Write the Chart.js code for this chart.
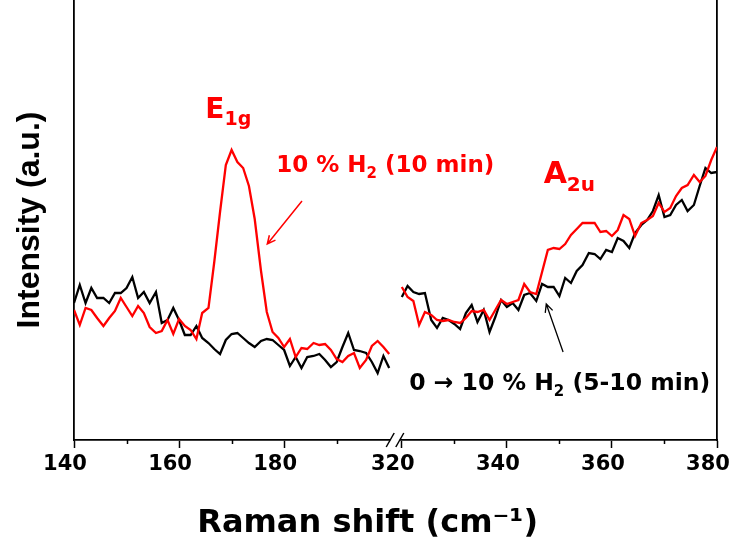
<!DOCTYPE html>
<html>
<head>
<meta charset="utf-8">
<script src="https://cdn.jsdelivr.net/npm/chart.js@4.4.1/dist/chart.umd.min.js"></script>
<style>
  html, body { margin: 0; padding: 0; background: #fff; }
</style>
</head>
<body>
<canvas id="raman" width="734" height="546"></canvas>
<script>
// ——— Raman shift grids (cm-1) for the two windows ———
const shiftLow = [140.0,141.1,142.2,143.3,144.4,145.6,146.7,147.8,148.9,150.0,151.1,152.2,153.3,154.4,155.6,156.7,157.8,158.9,160.0,161.1,162.2,163.3,164.4,165.6,166.7,167.8,168.9,170.0,171.1,172.2,173.3,174.4,175.6,176.7,177.8,178.9,180.0,181.1,182.2,183.3,184.4,185.6,186.7,187.8,188.9,190.0,191.1,192.2,193.3,194.4,195.6,196.7,197.8,198.9,200.0]
const shiftHigh = [320.0,321.1,322.2,323.3,324.4,325.6,326.7,327.8,328.9,330.0,331.1,332.2,333.3,334.4,335.6,336.7,337.8,338.9,340.0,341.1,342.2,343.3,344.4,345.6,346.7,347.8,348.9,350.0,351.1,352.2,353.3,354.4,355.6,356.7,357.8,358.9,360.0,361.1,362.2,363.3,364.4,365.6,366.7,367.8,368.9,370.0,371.1,372.2,373.3,374.4,375.6,376.7,377.8,378.9,380.0]

// intensities (a.u.)
// black: 0 -> 10 % H2 (5-10 min), red: 10 % H2 (10 min)
const blackLow = [137,155,137,152,142,142,137,147,147,152,163,142,148,137,148,117,120,132,120,105,105,114,102,97,91,86,100,106,107,102,97,93,99,101,100,95,90,74,83,72,83,84,86,80,73,78,93,107,90,89,87,78,67,84,72]
const redLow = [130,115,132,130,122,114,122,129,142,133,124,134,127,113,107,109,120,106,121,114,110,101,127,132,178,228,275,290,278,272,254,221,169,128,108,102,93,101,83,92,91,97,95,96,90,81,78,84,87,72,80,94,99,93,86]
const blackHigh = [143,154,148,146,147,120,112,122,120,116,111,127,135,118,130,108,123,140,133,137,130,145,147,139,156,153,153,144,162,157,169,175,187,186,181,190,188,202,199,192,207,215,220,229,245,223,225,235,240,229,235,254,272,267,268]
const redHigh = [153,143,139,115,128,125,120,119,120,118,117,122,129,128,130,120,130,140,136,138,140,156,148,146,168,190,192,191,196,205,211,217,217,217,208,209,204,210,225,221,204,217,220,224,237,228,232,244,252,255,265,258,264,280,293]

// axis ticks
const tickShifts = [140,150,160,170,180,190,320,330,340,350,360,370,380]
const labelShifts = [140,160,180,320,340,360,380]

const RED = '#ff0000'
const INK = '#000000'

// broken axis: 200..320 is cut out and replaced by a small gap
const BREAK_FROM = 200, BREAK_TO = 320, BREAK_GAP = 2.4
const axisPos = v => v <= BREAK_FROM ? v : v - (BREAK_TO - BREAK_FROM) + BREAK_GAP
const shiftOf = p => p <= BREAK_FROM + BREAK_GAP / 2 ? p : p + (BREAK_TO - BREAK_FROM) - BREAK_GAP

const pts = (xs, ys) => xs.map((x, i) => ({ x: axisPos(x), y: ys[i] }))

const lineSet = (data, color) => ({
  data, borderColor: color, borderWidth: 2.3, pointRadius: 0, tension: 0, fill: false
})

const SANS = "'DejaVu Sans', sans-serif"
const ARIAL = "'Liberation Sans', Arial, sans-serif"

// text with subscripts, drawn run by run
function drawRuns(ctx, x, y, runs, size, subSize, drop) {
  let cx = x
  runs.forEach(([txt, sub]) => {
    ctx.font = `bold ${sub ? subSize : size}px ${SANS}`
    ctx.fillText(txt, cx, sub ? y + drop : y)
    cx += ctx.measureText(txt).width
  })
}

function drawArrow(ctx, x1, y1, x2, y2, color, w) {
  const a = Math.atan2(y2 - y1, x2 - x1), h = 9
  ctx.strokeStyle = color
  ctx.lineWidth = w
  ctx.beginPath()
  ctx.moveTo(x1, y1); ctx.lineTo(x2, y2)
  ctx.moveTo(x2 - h * Math.cos(a - 0.45), y2 - h * Math.sin(a - 0.45))
  ctx.lineTo(x2, y2)
  ctx.lineTo(x2 - h * Math.cos(a + 0.45), y2 - h * Math.sin(a + 0.45))
  ctx.stroke()
}

// labels for the peaks and the two spectra (anchored in data units)
const notes = [
  { shift: 165, level: 322, color: RED, size: 28, sub: 19, drop: 7, runs: [['E'], ['1g', true]] },
  { shift: 347, level: 257, color: RED, size: 30, sub: 20, drop: 8, runs: [['A'], ['2u', true]] },
  { shift: 178.5, level: 268, color: RED, size: 23, sub: 15, drop: 6, runs: [['10 % H'], ['2', true], [' (10 min)']] },
  { shift: 321.4, level: 50, color: INK, size: 23.5, sub: 15, drop: 6, runs: [['0 \u2192 10 % H'], ['2', true], [' (5-10 min)']] }
]
const arrows = [
  { from: [183.4, 239], to: [176.8, 196], color: RED, width: 1.5 },
  { from: [350.7, 88], to: [347.5, 136], color: INK, width: 1.3 }
]

const decorations = {
  id: 'decorations',
  afterDraw(chart) {
    const { ctx, scales: { x, y } } = chart
    const px = s => x.getPixelForValue(axisPos(s))
    const py = v => y.getPixelForValue(v)
    ctx.save()

    // minor ticks
    ctx.strokeStyle = INK
    ctx.lineWidth = 1.5
    tickShifts.filter(s => !labelShifts.includes(s)).forEach(s => {
      const xx = Math.round(px(s)) + 0.5
      ctx.beginPath(); ctx.moveTo(xx, y.bottom); ctx.lineTo(xx, y.bottom + 4); ctx.stroke()
    })

    // axis break marks
    const b1 = px(BREAK_FROM) + 1, b2 = px(BREAK_TO) - 2
    ctx.fillStyle = '#fff'
    ctx.fillRect(b1, y.bottom - 3, b2 - b1, 6)
    ctx.lineWidth = 1.5
    ;[b1, b2].forEach(bx => {
      ctx.beginPath(); ctx.moveTo(bx - 4, y.bottom + 7); ctx.lineTo(bx + 4, y.bottom - 7); ctx.stroke()
    })

    // arrows
    arrows.forEach(a => drawArrow(ctx, px(a.from[0]), py(a.from[1]), px(a.to[0]), py(a.to[1]), a.color, a.width))

    // text labels
    ctx.textBaseline = 'alphabetic'
    ctx.textAlign = 'left'
    notes.forEach(n => {
      ctx.fillStyle = n.color
      drawRuns(ctx, px(n.shift), py(n.level), n.runs, n.size, n.sub, n.drop)
    })
    ctx.restore()
  }
}

new Chart(document.getElementById('raman'), {
  type: 'line',
  data: {
    datasets: [
      lineSet(pts(shiftLow, redLow), RED),
      lineSet(pts(shiftHigh, redHigh), RED),
      lineSet(pts(shiftLow, blackLow), INK),
      lineSet(pts(shiftHigh, blackHigh), INK)
    ]
  },
  options: {
    responsive: false,
    animation: false,
    devicePixelRatio: 1,
    layout: { padding: 0 },
    plugins: { legend: { display: false }, tooltip: { enabled: false } },
    scales: {
      x: {
        type: 'linear',
        position: 'bottom',
        min: 140,
        max: axisPos(380),
        afterBuildTicks: s => { s.ticks = tickShifts.map(v => ({ value: axisPos(v) })) },
        afterFit: s => { s.height = 106; s.paddingLeft = 0; s.paddingRight = 0 },
        ticks: {
          autoSkip: false,
          maxRotation: 0,
          padding: 4,
          labelOffset: -9,
          color: INK,
          font: { family: SANS, size: 21, weight: 'bold' },
          callback: v => {
            const s = Math.round(shiftOf(v))
            return labelShifts.includes(s) ? String(s) : ''
          }
        },
        grid: {
          drawOnChartArea: false,
          tickLength: 8,
          tickWidth: 1.5,
          tickColor: c => labelShifts.includes(Math.round(shiftOf(c.tick.value))) ? INK : 'rgba(0,0,0,0)'
        },
        border: { color: INK, width: 1.8 },
        title: {
          display: true,
          // trailing spaces pull the centred title a little to the left
          text: 'Raman shift (cm\u207B\u00B9)     ',
          color: INK,
          font: { family: SANS, size: 32, weight: 'bold', lineHeight: 1 },
          padding: { top: 0, bottom: 6 }
        }
      },
      y: {
        type: 'linear',
        position: 'left',
        min: 0,
        max: 440,
        afterFit: s => { s.width = 74 },
        ticks: { display: false },
        grid: { display: false },
        border: { color: INK, width: 1.8 },
        title: {
          display: true,
          text: 'Intensity (a.u.)',
          color: INK,
          font: { family: ARIAL, size: 32, weight: 'bold', lineHeight: 1 },
          padding: { top: 14, bottom: 0 }
        }
      },
      y2: {
        type: 'linear',
        position: 'right',
        min: 0,
        max: 440,
        afterFit: s => { s.width = 17 },
        ticks: { display: false },
        grid: { display: false },
        border: { color: INK, width: 1.8 }
      }
    }
  },
  plugins: [decorations]
})
</script>
</body>
</html>
